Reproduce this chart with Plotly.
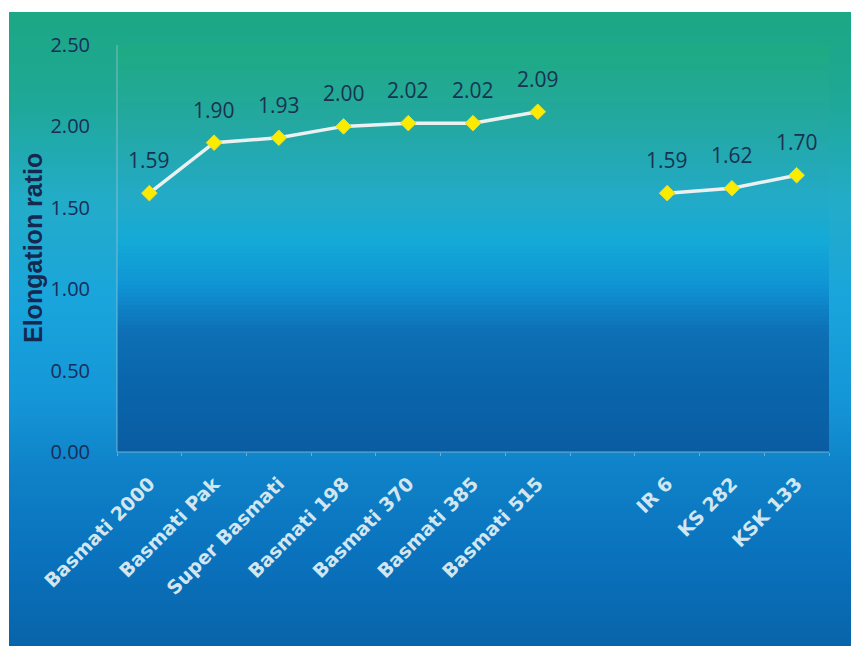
import plotly.graph_objects as go

# Rice varieties (blank slot separates the Basmati group from the others)
categories = ["Basmati 2000", "Basmati Pak", "Super Basmati", "Basmati 198",
              "Basmati 370", "Basmati 385", "Basmati 515", "",
              "IR 6", "KS 282", "KSK 133"]
elongation = [1.59, 1.90, 1.93, 2.00, 2.02, 2.02, 2.09, None, 1.59, 1.62, 1.70]
y_ticks = [0.0, 0.5, 1.0, 1.5, 2.0, 2.5]

W, H = 851, 646
L, R, T, B = 117, 22, 45, 194
PW, PH = W - L - R, H - T - B


def px_x(px):
    return (px - L) / PW


def px_y(py):
    return (H - B - py) / PH


def lerp_color(stops, py):
    for (y0, c0), (y1, c1) in zip(stops, stops[1:]):
        if y0 <= py <= y1:
            t = (py - y0) / (y1 - y0)
            return "rgb(%d,%d,%d)" % tuple(round(a + (b - a) * t) for a, b in zip(c0, c1))
    return "rgb(%d,%d,%d)" % stops[-1][1]


outer_stops = [(12, (28, 168, 132)), (100, (30, 168, 150)), (200, (35, 172, 200)),
               (300, (25, 165, 220)), (400, (20, 150, 215)), (470, (15, 130, 200)),
               (550, (10, 115, 190)), (646, (8, 100, 170))]
inner_stops = [(45, (30, 170, 130)), (120, (35, 168, 160)), (200, (35, 170, 200)),
               (240, (20, 170, 215)), (285, (15, 148, 212)), (330, (14, 112, 182)),
               (380, (10, 102, 172)), (452, (10, 92, 162))]

shapes = []
step = 4
# outer panel gradient
for py in range(12, H, step):
    shapes.append(dict(type="rect", xref="paper", yref="paper", layer="below",
                       x0=px_x(9), x1=px_x(W + 2), y0=px_y(py + step + 0.5), y1=px_y(py),
                       fillcolor=lerp_color(outer_stops, py + step / 2), line=dict(width=0)))
# plot area gradient
for py in range(T, H - B, step):
    y_top = py
    y_bot = min(py + step + 0.5, H - B)
    shapes.append(dict(type="rect", xref="paper", yref="paper", layer="below",
                       x0=0, x1=1, y0=px_y(y_bot), y1=px_y(y_top),
                       fillcolor=lerp_color(inner_stops, py + step / 2), line=dict(width=0)))
# faint axis lines
shapes.append(dict(type="line", xref="paper", yref="paper", x0=0, x1=0, y0=0, y1=1,
                   line=dict(color="rgba(170,200,215,0.7)", width=1)))
shapes.append(dict(type="line", xref="paper", yref="paper", x0=0, x1=1, y0=0, y1=0,
                   line=dict(color="rgba(170,200,215,0.7)", width=1)))

x_idx = list(range(len(categories)))
boundaries = [i - 0.5 for i in range(len(categories) + 1)]

fig = go.Figure()
fig.add_trace(go.Scatter(
    x=x_idx, y=elongation, mode="lines+markers", connectgaps=False,
    line=dict(color="rgb(235,240,240)", width=3.5),
    marker=dict(symbol="diamond", size=12, color="rgb(250,235,0)",
                line=dict(color="rgb(230,220,60)", width=1)),
    hoverinfo="skip", showlegend=False))

annotations = []
for i, v in zip(x_idx, elongation):
    if v is None:
        continue
    annotations.append(dict(x=i, y=v, xref="x", yref="y", text=f"{v:.2f}",
                            showarrow=False, yshift=33,
                            font=dict(family="Open Sans", size=21, color="rgb(25,50,80)")))
annotations.append(dict(x=px_x(33), y=px_y(248), xref="paper", yref="paper",
                        xanchor="center", yanchor="middle",
                        text="<b>Elongation ratio</b>", textangle=-90, showarrow=False,
                        font=dict(family="Liberation Sans", size=25, color="rgb(20,40,80)")))

fig.update_layout(
    width=W, height=H,
    margin=dict(l=L, r=R, t=T, b=B),
    paper_bgcolor="white", plot_bgcolor="rgba(0,0,0,0)",
    shapes=shapes, annotations=annotations,
    xaxis=dict(range=[-0.5, len(categories) - 0.5], tickmode="array",
               tickvals=x_idx, ticktext=[f"<b>{c}</b>" for c in categories],
               tickangle=-45, showgrid=False, zeroline=False, showline=False,
               ticks="", ticklabelstandoff=16,
               minor=dict(tickmode="array", tickvals=boundaries, ticks="outside",
                          ticklen=3, tickcolor="rgba(170,200,215,0.6)", showgrid=False),
               tickfont=dict(family="DejaVu Sans", size=19, color="rgb(210,230,240)")),
    yaxis=dict(range=[0, 2.5], tickmode="array", tickvals=y_ticks,
               ticktext=[f"{t:.2f}" for t in y_ticks],
               showgrid=False, zeroline=False, showline=False, ticks="",
               ticklabelstandoff=26,
               tickfont=dict(family="Open Sans", size=20, color="rgb(25,45,90)")),
)

fig.write_html("out.html")
